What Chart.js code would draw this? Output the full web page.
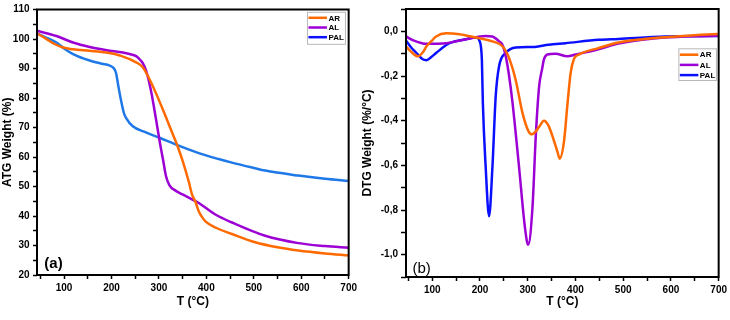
<!DOCTYPE html>
<html>
<head>
<meta charset="utf-8">
<script src="https://cdn.jsdelivr.net/npm/chart.js@4.4.0/dist/chart.umd.min.js"></script>
<style>
  html, body { margin: 0; padding: 0; background: #fff; }
  #wrap { position: relative; width: 730px; height: 320px; }
  .panel { position: absolute; top: 0; height: 320px; }
</style>
</head>
<body>
<div id="wrap">
  <div class="panel" style="left:0;width:360px"><canvas id="tga" width="360" height="320"></canvas></div>
  <div class="panel" style="left:360px;width:370px"><canvas id="dtg" width="370" height="320"></canvas></div>
</div>
<script>
// series names + colours
const seriesNames = ['AR', 'AL', 'PAL'];
const tgaColors = ['#ff6a00', '#9c00d4', '#1f78e8'];
const dtgColors = ['#ff6a00', '#9c00d4', '#0a10ff'];
const legendColors = ['#ff6a00', '#9c00d4', '#0a10ff'];

// TGA (a) - temperature (°C) and weight (%)
const tgaArT = [43, 60, 80, 98, 119, 154, 189, 220, 252, 266, 286, 307, 328, 339, 351, 363, 370, 377, 384, 391, 398, 419, 454, 503, 550, 594, 650, 700];
const tgaArW = [101.9, 100.3, 98.3, 97.1, 96.5, 96.0, 95.4, 94.3, 92.1, 90.4, 84.4, 76.6, 68.2, 63.8, 58.2, 51.6, 47.2, 44.8, 41.6, 39.6, 38.2, 36.1, 33.9, 31.1, 29.4, 28.3, 27.3, 26.6];

const tgaAlT = [43, 84, 119, 154, 190, 224, 238, 252, 259, 266, 273, 283, 294, 302, 309, 315, 322, 335, 350, 384, 419, 454, 524, 594, 650, 700];
const tgaAlW = [102.8, 101.0, 98.8, 97.3, 96.2, 95.4, 94.9, 94.2, 93.2, 91.8, 89.3, 82.7, 72.7, 64.9, 58.8, 53.5, 50.5, 48.6, 47.3, 44.4, 40.5, 37.8, 33.3, 30.8, 29.8, 29.2];

const tgaPalT = [43, 62, 84, 100, 119, 154, 180, 196, 203, 207, 210, 214, 220, 226, 231, 245, 270, 300, 339, 384, 426, 454, 500, 524, 594, 650, 700];
const tgaPalW = [101.9, 100.5, 98.8, 96.8, 94.9, 92.7, 91.6, 91.0, 90.4, 89.6, 88.2, 84.5, 79.3, 75.0, 73.2, 70.4, 68.5, 66.6, 64.0, 61.3, 59.3, 58.1, 56.3, 55.4, 53.7, 52.6, 51.9];

// DTG (b) - temperature (°C) and weight loss rate (%/°C)
const dtgArT = [45, 55, 70, 80, 88, 100, 108, 129, 157, 192, 226, 247, 261, 275, 289, 302, 309, 316, 324, 334, 343, 351, 362, 367, 376, 383, 390, 397, 407, 448, 490, 540, 594, 657, 700];
const dtgArV = [-0.067, -0.09, -0.112, -0.095, -0.067, -0.04, -0.023, -0.009, -0.013, -0.028, -0.045, -0.067, -0.12, -0.22, -0.365, -0.449, -0.461, -0.45, -0.427, -0.40, -0.42, -0.464, -0.537, -0.570, -0.493, -0.332, -0.185, -0.123, -0.104, -0.075, -0.05, -0.035, -0.025, -0.016, -0.012];

const dtgAlT = [45, 60, 88, 129, 171, 212, 226, 240, 247, 254, 261, 268, 282, 294, 301, 310, 317, 324, 330, 334, 341, 358, 383, 400, 448, 490, 540, 587, 650, 700];
const dtgAlV = [-0.023, -0.04, -0.056, -0.053, -0.035, -0.021, -0.023, -0.045, -0.06, -0.112, -0.2, -0.317, -0.611, -0.875, -0.956, -0.787, -0.464, -0.244, -0.17, -0.126, -0.104, -0.1, -0.112, -0.104, -0.08, -0.055, -0.038, -0.028, -0.022, -0.02];

const dtgPalT = [45, 55, 67, 80, 88, 98, 108, 136, 171, 192, 198, 202, 204, 206, 212, 219, 226, 233, 240, 254, 275, 310, 344, 379, 449, 490, 587, 700];
const dtgPalV = [-0.041, -0.07, -0.097, -0.125, -0.129, -0.115, -0.097, -0.053, -0.035, -0.028, -0.038, -0.07, -0.13, -0.32, -0.611, -0.828, -0.611, -0.288, -0.156, -0.097, -0.072, -0.07, -0.06, -0.053, -0.038, -0.034, -0.023, -0.021];

// axis ticks
const xTicks = [50, 100, 150, 200, 250, 300, 350, 400, 450, 500, 550, 600, 650, 700];
const tgaTicks = [20, 25, 30, 35, 40, 45, 50, 55, 60, 65, 70, 75, 80, 85, 90, 95, 100, 105, 110];
const dtgTicks = [-1.1, -1.0, -0.9, -0.8, -0.7, -0.6, -0.5, -0.4, -0.3, -0.2, -0.1, 0.0, 0.1];

Chart.defaults.font.family = "'Liberation Sans', Arial, sans-serif";
Chart.defaults.color = '#000';

function pts(xs, ys) {
  return xs.map((x, i) => ({ x: x, y: ys[i] }));
}

function makeSets(pairs, colors) {
  return pairs.map((p, i) => ({
    label: seriesNames[i],
    data: pts(p[0], p[1]),
    borderColor: colors[i],
    borderWidth: 2.5,
    pointRadius: 0,
    cubicInterpolationMode: 'monotone',
    fill: false
  }));
}

// box frame, panel tag and the small legend inside the plot
const framePlugin = {
  id: 'frame',
  afterDraw(chart, args, o) {
    const { ctx, chartArea: a } = chart;
    ctx.save();
    ctx.strokeStyle = '#000';
    ctx.lineWidth = 2;
    ctx.strokeRect(a.left, a.top, a.right - a.left, a.bottom - a.top);

    ctx.fillStyle = '#000';
    ctx.font = o.tagFont;
    ctx.textAlign = 'center';
    ctx.textBaseline = 'middle';
    ctx.fillText(o.tag, a.left + o.tagX, a.top + o.tagY);

    const bx = a.right - o.boxRight - o.boxW;
    const by = a.top + o.boxTop;
    ctx.lineWidth = 1;
    ctx.strokeStyle = '#b8b8b8';
    ctx.strokeRect(bx + 0.5, by + 0.5, o.boxW, o.boxH);
    ctx.font = "bold 8px 'Liberation Sans', Arial, sans-serif";
    ctx.textAlign = 'left';
    seriesNames.forEach((name, i) => {
      const y = by + o.row0 + i * o.rowGap;
      ctx.strokeStyle = legendColors[i];
      ctx.lineWidth = 2.5;
      ctx.beginPath();
      ctx.moveTo(bx + 1.5, y);
      ctx.lineTo(bx + 20, y);
      ctx.stroke();
      ctx.fillStyle = '#000';
      ctx.fillText(name, bx + 21.5, y + 0.5);
    });
    ctx.restore();
  }
};

function xScale(min, max, h) {
  return {
    type: 'linear', min: min, max: max,
    afterFit: s => { s.height = h; },
    afterBuildTicks: s => { s.ticks = xTicks.map(v => ({ value: v })); },
    grid: { drawOnChartArea: false, drawTicks: true, tickLength: 4, tickColor: '#000', tickWidth: 1.5 },
    border: { display: false },
    ticks: {
      autoSkip: false, maxRotation: 0, padding: 3,
      font: { size: 10, weight: 'bold' },
      callback: v => (v % 100 === 0 ? v : '')
    },
    title: { display: true, text: 'T (°C)', font: { size: 12, weight: 'bold' }, padding: { top: 0, bottom: 11 } }
  };
}

new Chart(document.getElementById('tga'), {
  type: 'line',
  data: { datasets: makeSets([[tgaArT, tgaArW], [tgaAlT, tgaAlW], [tgaPalT, tgaPalW]], tgaColors) },
  options: {
    responsive: false,
    animation: false,
    layout: { padding: { top: 5, right: 9, left: 0, bottom: 0 } },
    plugins: {
      legend: { display: false },
      tooltip: { enabled: false },
      frame: {
        tag: '(a)', tagFont: "bold 15px 'Liberation Sans', Arial, sans-serif", tagX: 16.5, tagY: 254.5,
        boxRight: 3.7, boxW: 38, boxTop: 2.3, boxH: 32, row0: 6, rowGap: 9.7
      }
    },
    scales: {
      x: xScale(43, 700, 45),
      y: {
        min: 20, max: 110,
        afterFit: s => { s.width = 37; },
        afterBuildTicks: s => { s.ticks = tgaTicks.map(v => ({ value: v })); },
        grid: { drawOnChartArea: false, drawTicks: true, tickLength: 4, tickColor: '#000', tickWidth: 1.5 },
        border: { display: false },
        ticks: {
          autoSkip: false, padding: 3.5,
          font: { size: 10, weight: 'bold' },
          callback: v => (v % 10 === 0 ? v : '')
        },
        title: { display: true, text: 'ATG Weight (%)', font: { size: 12, weight: 'bold' }, padding: 0 }
      }
    }
  },
  plugins: [framePlugin]
});

new Chart(document.getElementById('dtg'), {
  type: 'line',
  data: { datasets: makeSets([[dtgArT, dtgArV], [dtgAlT, dtgAlV], [dtgPalT, dtgPalV]], dtgColors) },
  options: {
    responsive: false,
    animation: false,
    layout: { padding: { top: 5, right: 9, left: 0, bottom: 0 } },
    plugins: {
      legend: { display: false },
      tooltip: { enabled: false },
      frame: {
        tag: '(b)', tagFont: "15px 'Liberation Sans', Arial, sans-serif", tagX: 15.7, tagY: 260,
        boxRight: 2.7, boxW: 37.6, boxTop: 39.3, boxH: 31.7, row0: 6.4, rowGap: 10.2
      }
    },
    scales: {
      x: xScale(45, 700, 43),
      y: {
        min: -1.1, max: 0.1,
        afterFit: s => { s.width = 46; },
        afterBuildTicks: s => { s.ticks = dtgTicks.map(v => ({ value: v })); },
        grid: { drawOnChartArea: false, drawTicks: true, tickLength: 5, tickColor: '#000', tickWidth: 1.5 },
        border: { display: false },
        ticks: {
          autoSkip: false, padding: 3,
          font: { size: 10, weight: 'bold' },
          callback: v => {
            const t = Math.round(v * 10);
            return t % 2 === 0 ? (t / 10).toFixed(1).replace('.', ',') : '';
          }
        },
        title: { display: true, text: 'DTG Weight (%/°C)', font: { size: 12, weight: 'bold' }, padding: 0 }
      }
    }
  },
  plugins: [framePlugin]
});
</script>
</body>
</html>
